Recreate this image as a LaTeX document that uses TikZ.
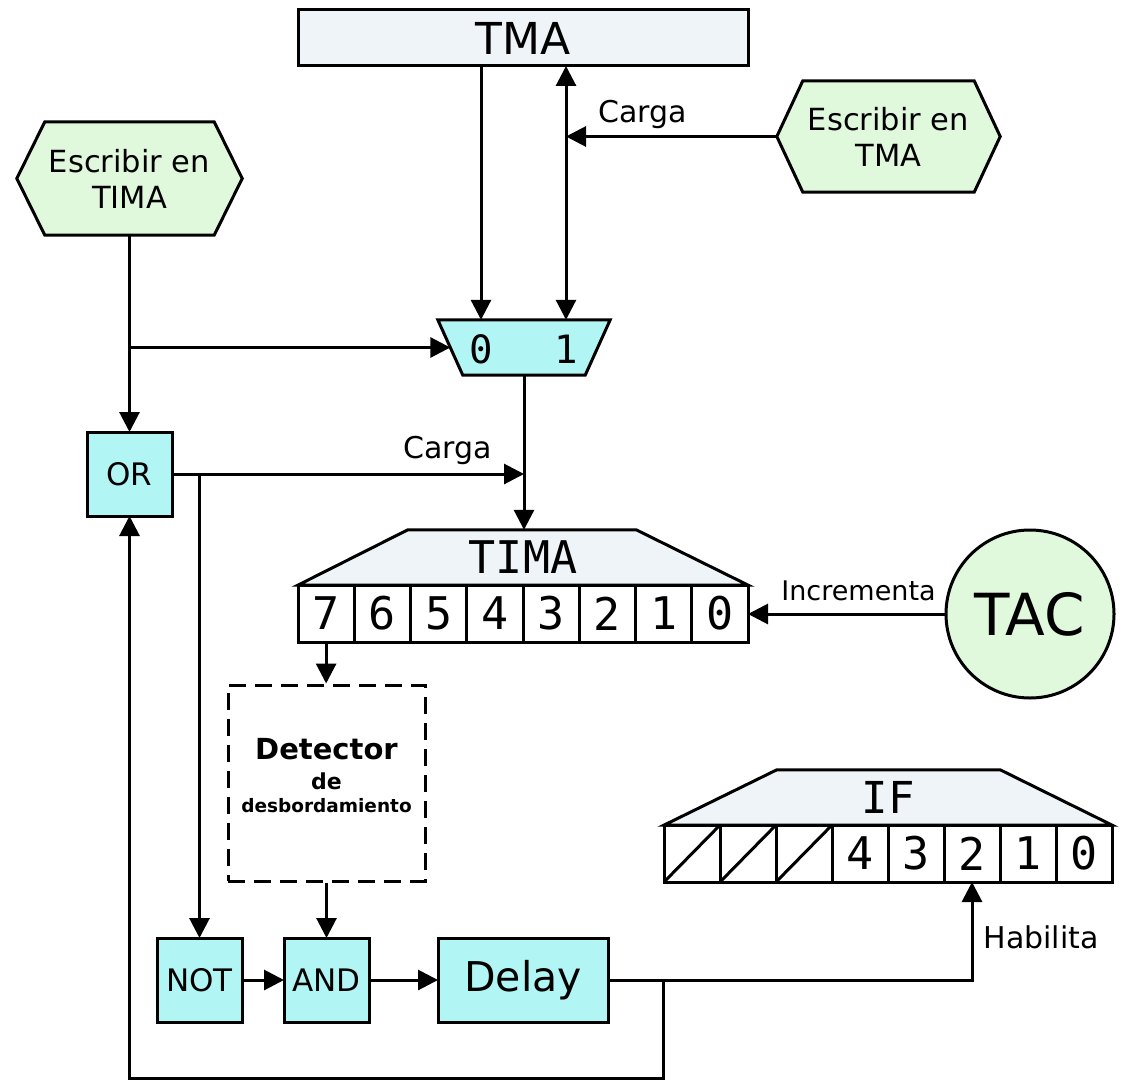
\documentclass[tikz,border=0pt]{standalone}
\usepackage{fontspec}
\setmainfont{DejaVu Sans}
\newfontfamily\monof{DejaVu Sans Mono}
\usetikzlibrary{arrows.meta,backgrounds}
\definecolor{cyanf}{RGB}{178,245,245}
\definecolor{greenf}{RGB}{224,249,220}
\definecolor{greyf}{RGB}{239,244,248}
\newcommand{\fsz}[2]{\fontsize{#1}{#2}\selectfont}
\begin{document}
\begin{tikzpicture}[x=1pt,y=-1pt,
  ln/.style={line width=3pt},
  arr/.style={ln,-{Triangle[length=20pt,width=20pt]}},
  darr/.style={ln,{Triangle[length=20pt,width=20pt]}-{Triangle[length=20pt,width=20pt]}},
  blk/.style={draw,ln,rectangle,inner sep=0pt,outer sep=0pt},
  gate/.style={blk,fill=cyanf,minimum width=85pt,minimum height=84pt,font=\fsz{31}{31}},
  cell/.style={blk,fill=white,minimum width=56.25pt,minimum height=57pt,font=\monof\fsz{45}{45}},
  ifcell/.style={blk,fill=white,minimum width=56pt,minimum height=57pt,font=\monof\fsz{45}{45}},
  hexbox/.style={minimum width=#1,inner sep=0pt,align=center,font=\fsz{30.5}{36}},
  lbl/.style={anchor=base,inner sep=0pt,font=\fsz{30}{30}}
]
\useasboundingbox (0,0) rectangle (1123,1089);
\begin{scope}[on background layer]
\fill[white] (0,0) rectangle (1123,1089);
\end{scope}

% TMA register
\node[blk,fill=greyf,minimum width=450pt,minimum height=56pt,font=\fsz{44}{44}] (tma) at (523,38) {TMA};

% Escribir en TMA
\node[hexbox=223pt,minimum height=111pt] (htma) at (888.5,136.5) {Escribir en\\TMA};
% Escribir en TIMA
\node[hexbox=225pt,minimum height=113pt] (hl) at (129.5,178.5) {Escribir en\\TIMA};

% multiplexer
\node[minimum width=172pt,minimum height=55pt,inner sep=0pt] (mux) at (524,347.5) {};
\node[inner sep=0pt,font=\monof\fsz{39}{39}] (m0) at (481,349) {0};
\node[inner sep=0pt,font=\monof\fsz{39}{39}] (m1) at (566,349) {1};

% OR
\node[gate] (gor) at (129.5,474) {OR};

% TIMA register
\node[minimum width=450pt,minimum height=55pt,inner sep=0pt,font=\monof\fsz{45}{45}] (tlbl) at (523,557.5) {TIMA};
\foreach \i in {7,...,0}
  \node[cell] (t\i) at ({298+56.25*(7.5-\i)},613.5) {\i};

% TAC
\node[circle,draw,ln,fill=greenf,minimum size=168pt,inner sep=0pt,font=\fsz{58}{58}] (tac) at (1030,614) {TAC};

% detector
\node[draw,ln,dash pattern=on 17pt off 9pt,minimum width=197pt,minimum height=196pt] (det) at (326.5,783) {};
\node[inner sep=0pt,font=\bfseries\fsz{29}{29}] (d1) at (326.5,749) {Detector};
\node[inner sep=0pt,font=\bfseries\fsz{22}{22}] (d2) at (326.5,781) {de};
\node[inner sep=0pt,font=\bfseries\fsz{18.5}{18.5}] (d3) at (326.5,806) {desbordamiento};

% gates
\node[gate] (gnot) at (199.5,980) {NOT};
\node[gate] (gand) at (326.5,980) {AND};
\node[gate,minimum width=170pt,font=\fsz{41}{41}] (gdelay) at (523,980) {Delay};

% IF register
\node[minimum width=448pt,minimum height=55pt,inner sep=0pt,font=\monof\fsz{44}{44}] (iflbl) at (888,797.5) {IF};
\foreach \l in {7,6,5} {
  \node[ifcell] (f\l) at ({692+56*(7-\l)},853.5) {};
  \draw[ln] (f\l.south west) -- (f\l.north east);
}
\foreach \l in {4,...,0}
  \node[ifcell] (f\l) at ({692+56*(7-\l)},853.5) {\l};

% background shapes
\begin{scope}[on background layer]
\draw[ln,fill=greenf] (htma.west) -- ([xshift=26pt]htma.north west) -- ([xshift=-26pt]htma.north east) -- (htma.east) -- ([xshift=-26pt]htma.south east) -- ([xshift=26pt]htma.south west) -- cycle;
\draw[ln,fill=greenf] (hl.west) -- ([xshift=28pt]hl.north west) -- ([xshift=-28pt]hl.north east) -- (hl.east) -- ([xshift=-28pt]hl.south east) -- ([xshift=28pt]hl.south west) -- cycle;
\draw[ln,fill=cyanf] (mux.north west) -- (mux.north east) -- ([xshift=-25pt]mux.south east) -- ([xshift=25pt]mux.south west) -- cycle;
\draw[ln,fill=greyf] (tlbl.south west) -- ([xshift=110pt]tlbl.north west) -- ([xshift=-112pt]tlbl.north east) -- (tlbl.south east) -- cycle;
\draw[ln,fill=greyf] (iflbl.south west) -- ([xshift=113pt]iflbl.north west) -- ([xshift=-112pt]iflbl.north east) -- (iflbl.south east) -- cycle;
\end{scope}

% connectors
\draw[arr] (tma.south -| m0) -- (mux.north -| m0);
\draw[darr] (mux.north -| m1) -- (tma.south -| m1);
\draw[arr] (htma.west) -- (htma.west -| m1);
\node[lbl] (lc1) at (642.5,122) {Carga};

\draw[arr] (hl.south) -- (gor.north);
\draw[arr] (hl.south |- mux.west) -- ([xshift=12.5pt]mux.west);

\draw[arr] (mux.south) -- (mux.south |- tlbl.north);
\draw[arr] (gor.east) -- (gor.east -| mux.south);
\node[lbl] (lc2) at (447.5,458) {Carga};
\draw[arr] (gor.east -| gnot.north) -- (gnot.north);

\draw[arr] (tac.west) -- (tac.west -| t0.east);
\node[lbl,font=\fsz{27}{27}] (linc) at (858.5,600) {Incrementa};

\draw[arr] (t7.south) -- (t7.south |- det.north);
\draw[arr] (det.south) -- (gand.north);
\draw[arr] (gnot.east) -- (gand.west);
\draw[arr] (gand.east) -- (gdelay.west);

\draw[arr] (gdelay.east) -- (gdelay.east -| f2.south) -- (f2.south);
\node[lbl] (lhab) at (1041,948) {Habilita};

\coordinate (fb) at (663,980);
\coordinate (fbb) at (663,1078);
\draw[arr] (fb) -- (fbb) -| (gor.south);
\end{tikzpicture}
\end{document}
